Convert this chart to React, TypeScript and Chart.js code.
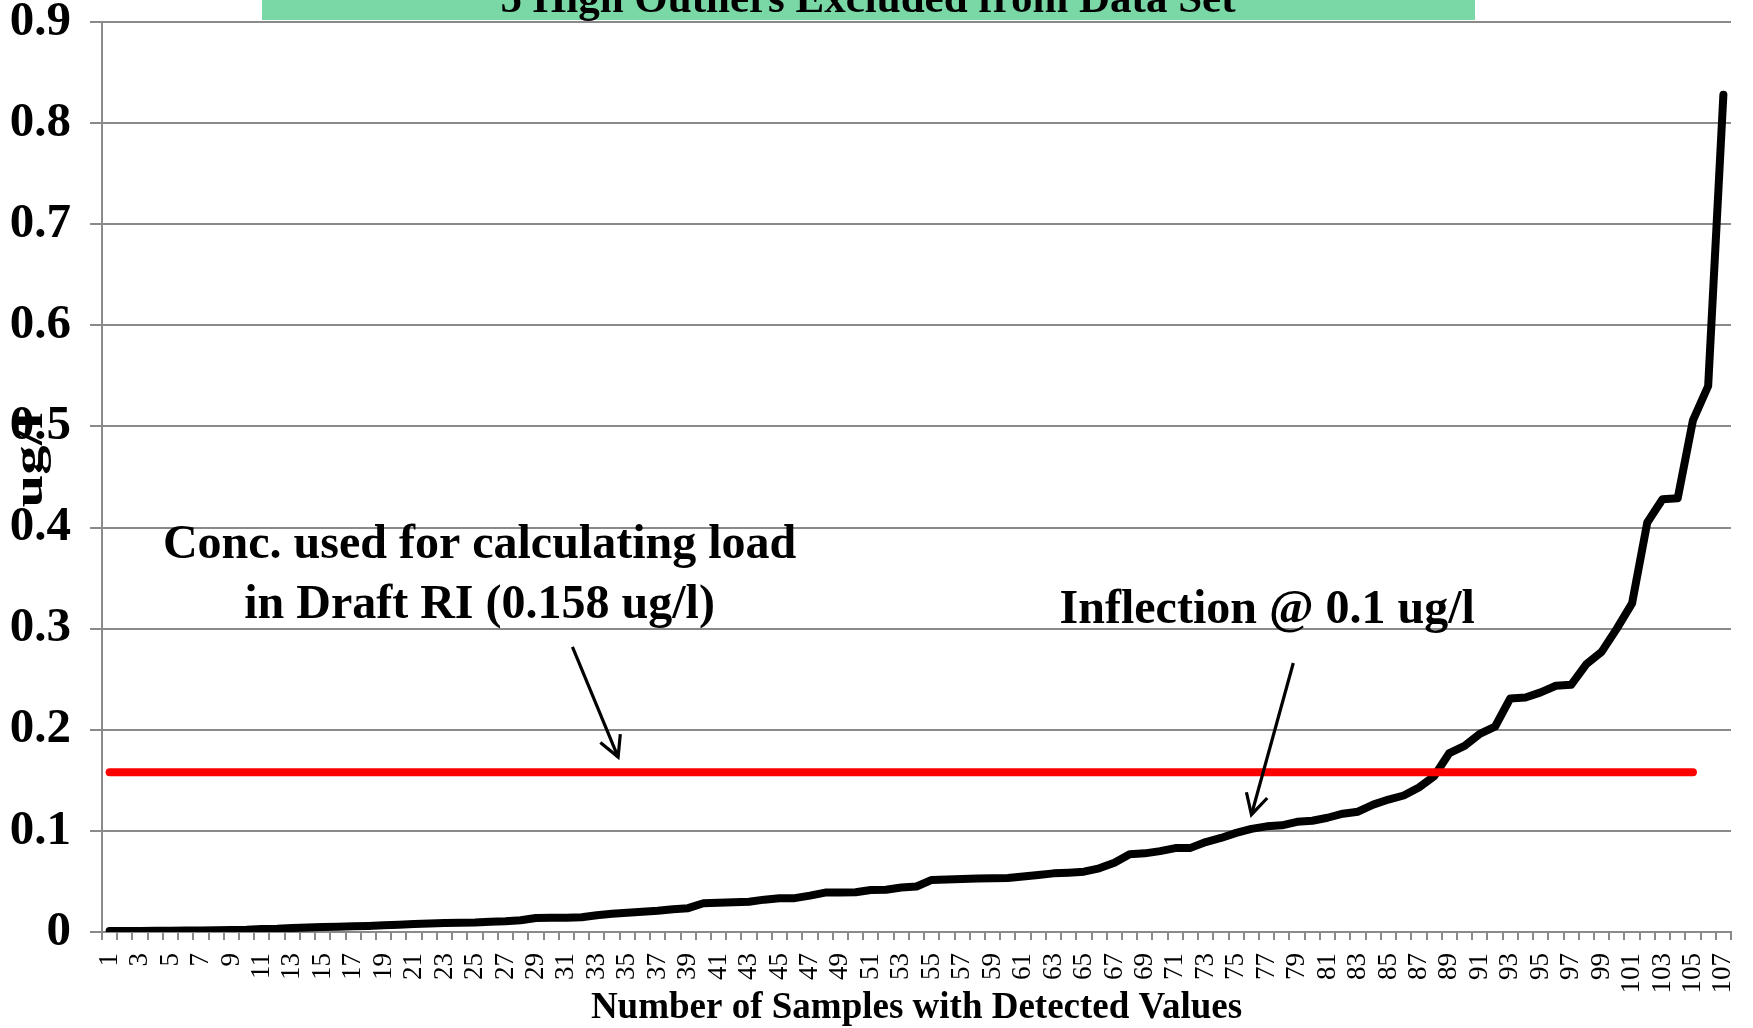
import React, { useEffect, useRef } from "react";
import { Chart, registerables } from "chart.js";

Chart.register(...registerables);

const SERIF = "'Liberation Serif', 'Times New Roman', serif";

// Sample rank (1..107)
const categories: string[] = Array.from({ length: 107 }, (_, i) => String(i + 1));

// Detected concentrations, ug/l (sorted ascending)
const concentration: number[] = [
  0.001, 0.001, 0.001, 0.0012, 0.0013, 0.0014, 0.0015, 0.0017, 0.002, 0.0022,
  0.003, 0.0033, 0.004, 0.0045, 0.005, 0.0053, 0.0056, 0.006, 0.0066, 0.0072,
  0.0078, 0.0085, 0.009, 0.0092, 0.0093, 0.0102, 0.0106, 0.0116, 0.0138, 0.014,
  0.0142, 0.0146, 0.0165, 0.018, 0.019, 0.02, 0.021, 0.0226, 0.0236, 0.0285,
  0.029, 0.0295, 0.03, 0.032, 0.0334, 0.0335, 0.036, 0.039, 0.039, 0.0393,
  0.0416, 0.0418, 0.044, 0.045, 0.0515, 0.052, 0.0525, 0.053, 0.0531, 0.0534,
  0.0548, 0.0564, 0.058, 0.0587, 0.0597, 0.063, 0.0685, 0.077, 0.0778, 0.08,
  0.083, 0.0832, 0.089, 0.093, 0.098, 0.102, 0.1045, 0.1055, 0.109, 0.11,
  0.113, 0.117, 0.119, 0.126, 0.131, 0.135, 0.143, 0.154, 0.177, 0.184,
  0.196, 0.203, 0.231, 0.232, 0.237, 0.2435, 0.2445, 0.265, 0.277, 0.3,
  0.325, 0.405, 0.428, 0.429, 0.506, 0.54, 0.828,
];

// Concentration used in the Draft RI (drawn across samples 1..105)
const draftRiValue = 0.158;
const draftRiLastSample = 105;
const draftRiLine: (number | null)[] = categories.map((_, i) =>
  i < draftRiLastSample ? draftRiValue : null
);

const yTickLabels: string[] = ["0", "0.1", "0.2", "0.3", "0.4", "0.5", "0.6", "0.7", "0.8", "0.9"];

const bannerText = "5 High Outliers Excluded from Data Set";
const yTitle = "ug/l";
const xTitle = "Number of Samples with Detected Values";
const noteDraft = ["Conc. used for calculating load", "in Draft RI (0.158 ug/l)"];
const noteInflection = "Inflection @ 0.1 ug/l";

function drawArrow(ctx: CanvasRenderingContext2D, x0: number, y0: number, x1: number, y1: number) {
  ctx.beginPath();
  ctx.moveTo(x0, y0);
  ctx.lineTo(x1, y1);
  ctx.stroke();
  const ang = Math.atan2(y0 - y1, x0 - x1);
  const len = 23;
  const spread = (28 * Math.PI) / 180;
  ctx.beginPath();
  ctx.moveTo(x1 + len * Math.cos(ang + spread), y1 + len * Math.sin(ang + spread));
  ctx.lineTo(x1, y1);
  ctx.lineTo(x1 + len * Math.cos(ang - spread), y1 + len * Math.sin(ang - spread));
  ctx.stroke();
}

const annotationPlugin = {
  id: "annotations",
  afterDraw(chart: any) {
    const { ctx, scales } = chart;
    const x = scales.x;
    const y = scales.y;
    ctx.save();

    // banner at the top
    ctx.fillStyle = "#7AD7A6";
    ctx.fillRect(262, 0, 1213, 20);
    ctx.fillStyle = "#000";
    ctx.font = `bold 43px ${SERIF}`;
    ctx.textAlign = "center";
    ctx.textBaseline = "alphabetic";
    ctx.fillText(bannerText, 868, 12);

    // y axis title (overlapping tick labels as in the original)
    ctx.save();
    ctx.translate(31, 460);
    ctx.rotate(-Math.PI / 2);
    ctx.scale(1.4, 1);
    ctx.font = `bold 42px ${SERIF}`;
    ctx.textAlign = "center";
    ctx.textBaseline = "middle";
    ctx.fillText(yTitle, 0, 0);
    ctx.restore();

    // notes
    ctx.font = `bold 48px ${SERIF}`;
    ctx.textAlign = "center";
    ctx.textBaseline = "alphabetic";
    const cx = x.getPixelForValue(24.3);
    ctx.fillText(noteDraft[0], cx, y.getPixelForValue(0.37));
    ctx.fillText(noteDraft[1], cx, y.getPixelForValue(0.311));
    ctx.textAlign = "left";
    ctx.fillText(noteInflection, x.getPixelForValue(62.4), y.getPixelForValue(0.306));

    // arrows
    ctx.strokeStyle = "#000";
    ctx.lineWidth = 3.2;
    ctx.lineCap = "butt";
    ctx.lineJoin = "miter";
    drawArrow(
      ctx,
      x.getPixelForValue(30.4), y.getPixelForValue(0.282),
      x.getPixelForValue(33.4), y.getPixelForValue(0.173)
    );
    drawArrow(
      ctx,
      x.getPixelForValue(77.75), y.getPixelForValue(0.266),
      x.getPixelForValue(75.0), y.getPixelForValue(0.116)
    );
    ctx.restore();
  },
};

export default function App() {
  const ref = useRef<HTMLCanvasElement>(null);

  useEffect(() => {
    if (!ref.current) return;
    const gridColor = "#8a8a8a";
    const chart = new Chart(ref.current, {
      type: "line",
      data: {
        labels: categories,
        datasets: [
          {
            label: "Draft RI concentration",
            data: draftRiLine,
            borderColor: "#FF0000",
            borderWidth: 8,
            borderCapStyle: "round",
            borderJoinStyle: "round",
            pointRadius: 0,
            spanGaps: false,
            tension: 0,
          },
          {
            label: "Concentration",
            data: concentration,
            borderColor: "#000000",
            borderWidth: 8,
            borderCapStyle: "round",
            borderJoinStyle: "round",
            pointRadius: 0,
            tension: 0,
          },
        ],
      },
      options: {
        animation: false,
        responsive: false,
        devicePixelRatio: 1,
        events: [],
        layout: { autoPadding: false, padding: { left: 0, right: 22, top: 22, bottom: 0 } },
        plugins: {
          legend: { display: false },
          title: { display: false },
          tooltip: { enabled: false },
        },
        scales: {
          x: {
            type: "category",
            offset: true,
            grid: {
              display: true,
              drawOnChartArea: false,
              drawTicks: true,
              tickLength: 8,
              offset: true,
              color: gridColor,
              lineWidth: 2,
            },
            border: { display: true, color: gridColor, width: 2 },
            ticks: {
              autoSkip: false,
              minRotation: 90,
              maxRotation: 90,
              padding: 13,
              color: "#000",
              font: { family: SERIF, size: 27, weight: "normal", lineHeight: 1 },
              callback: (_v: any, i: number) => (i % 2 === 0 ? categories[i] : ""),
            },
            title: {
              display: true,
              text: xTitle,
              color: "#000",
              font: { family: SERIF, size: 37, weight: "bold", lineHeight: 1 },
              padding: { top: 0, bottom: 1 },
            },
            afterFit: (scale: any) => {
              scale.height = 96;
              scale.paddingLeft = 0;
              scale.paddingRight = 0;
              scale.paddingTop = 0;
              scale.paddingBottom = 0;
            },
          },
          y: {
            type: "linear",
            min: 0,
            max: 0.9,
            grid: {
              color: gridColor,
              lineWidth: 2,
              drawTicks: true,
              tickLength: 12,
            },
            border: { display: true, color: gridColor, width: 2 },
            ticks: {
              stepSize: 0.1,
              padding: 19,
              color: "#000",
              font: { family: SERIF, size: 49, weight: "bold", lineHeight: 1 },
              callback: (_v: any, i: number) => yTickLabels[i],
            },
            afterFit: (scale: any) => {
              scale.width = 102;
              scale.paddingLeft = 0;
              scale.paddingRight = 0;
              scale.paddingTop = 0;
              scale.paddingBottom = 0;
            },
          },
        },
      },
      plugins: [annotationPlugin],
    } as any);
    return () => chart.destroy();
  }, []);

  return (
    <div style={{ position: "fixed", left: 0, top: 0, width: 1753, height: 1028, background: "#fff" }}>
      <canvas ref={ref} width={1753} height={1028} style={{ display: "block" }} />
    </div>
  );
}
